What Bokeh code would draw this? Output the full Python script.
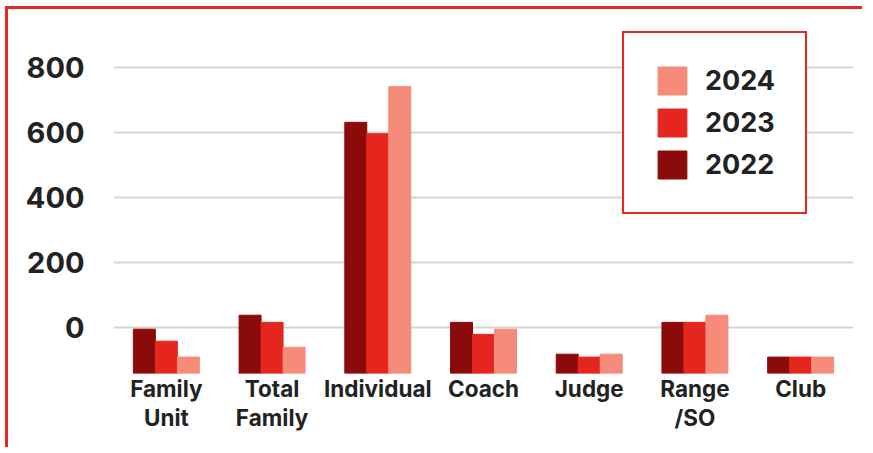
from bokeh.plotting import figure
from bokeh.models import FactorRange, FixedTicker, Legend, LegendItem, ColumnDataSource, Range1d
from bokeh.transform import dodge
from bokeh.embed import file_html
from bokeh.resources import INLINE

categories = ["Family\nUnit", "Total\nFamily", "Individual", "Coach", "Judge", "Range\n/SO", "Club"]
years = ["2022", "2023", "2024"]
v2022 = [-5, 38, 632, 16, -82, 16, -91]
v2023 = [-42, 16, 597, -21, -91, 16, -91]
v2024 = [-91, -61, 742, -5, -82, 38, -91]
y_ticks = [0, 200, 400, 600, 800]

colors = {"2022": "#8b0b0b", "2023": "#e5261f", "2024": "#f48c79"}
RED = "#e8251f"
Y_START, Y_END = -141.5, 921

src = ColumnDataSource(data=dict(cat=categories, y2022=v2022, y2023=v2023, y2024=v2024))

p = figure(x_range=FactorRange(*categories), y_range=Range1d(Y_START, Y_END),
           width=857, height=441, output_backend="svg", toolbar_location=None,
           min_border_left=105, min_border_right=12, min_border_top=19, min_border_bottom=77)
p.styles = {"border-left": "3px solid " + RED, "border-top": "3px solid " + RED,
            "margin-left": "5px", "margin-top": "6px"}
p.outline_line_color = None
p.background_fill_color = "white"
p.border_fill_color = "white"

w = 0.208
renderers = {}
for off, yr in zip([-w, 0, w], years):
    renderers[yr] = p.vbar(x=dodge("cat", off, range=p.x_range), top="y" + yr, bottom=Y_START,
                           width=w, color=colors[yr], source=src)

p.xgrid.grid_line_color = None
p.ygrid.grid_line_color = "#d3d5d7"
p.ygrid.grid_line_width = 2
p.yaxis.ticker = FixedTicker(ticks=y_ticks)
for ax in (p.xaxis, p.yaxis):
    ax.axis_line_color = None
    ax.major_tick_line_color = None
    ax.minor_tick_line_color = None
    ax.major_label_text_font = "Inter"
    ax.major_label_text_font_style = "bold"
    ax.major_label_text_color = "#222222"
p.yaxis.major_label_text_font_size = "29px"
p.yaxis.major_label_standoff = 23
p.xaxis.major_label_text_font_size = "22.5px"
p.xaxis.major_label_standoff = -5
p.xaxis.major_label_text_line_height = 1.1

legend = Legend(items=[LegendItem(label=yr, renderers=[renderers[yr]]) for yr in ["2024", "2023", "2022"]],
                location=(509, 159))
legend.glyph_width = 36
legend.glyph_height = 35
legend.label_standoff = 15
legend.spacing = 7
legend.padding = 30
legend.margin = 0
legend.border_line_color = RED
legend.border_line_alpha = 1
legend.border_line_width = 2.5
legend.background_fill_color = "white"
legend.background_fill_alpha = 1
legend.label_text_font = "Inter"
legend.label_text_font_style = "bold"
legend.label_text_font_size = "27px"
legend.label_text_color = "#222222"
p.add_layout(legend)

open("out.html", "w").write(file_html(p, INLINE))
